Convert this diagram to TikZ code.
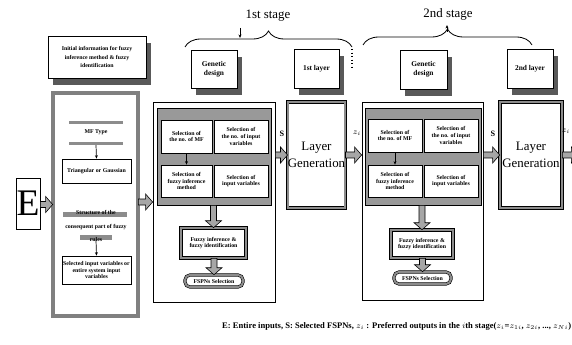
\documentclass[tikz,border=0pt]{standalone}
\usepackage{fontspec}
\setmainfont{Liberation Serif}
\usetikzlibrary{calc,arrows.meta,shadows,decorations.pathreplacing}
\def\blk[#1](#2)(#3,#4)(#5,#6)#7{\node[#1, minimum width={(#5-#3)*0.03cm}, minimum height={(#6-#4)*0.03cm}] (#2) at ({(#3+#5)/2},{(#4+#6)/2}) {#7};}
\def\fatr(#1)(#2){\draw[fatarr] ($(#1 |- #2)+(0,-3)$) -- ($(#2)+(-7,-3)$) -- ($(#2)+(-7,-8)$) -- (#2) -- ($(#2)+(-7,8)$) -- ($(#2)+(-7,3)$) -- ($(#1 |- #2)+(0,3)$) -- cycle;}
\def\fatd(#1)(#2){\draw[fatarr] ($(#2 |- #1)+(-3,0)$) -- ($(#2)+(-3,-7)$) -- ($(#2)+(-8,-7)$) -- (#2) -- ($(#2)+(8,-7)$) -- ($(#2)+(3,-7)$) -- ($(#2 |- #1)+(3,0)$) -- cycle;}
\tikzset{
  txt/.style={font=\bfseries\fontsize{5}{5.8}\selectfont, align=center, inner sep=0pt},
  plainbox/.style={txt, draw, fill=white, line width=0.6pt},
  shadowbox/.style={plainbox, font=\bfseries\fontsize{6.3}{8}\selectfont, drop shadow={shadow xshift=0.16cm, shadow yshift=-0.22cm, fill=black!65, opacity=1}},
  hatch/.style={fill=black!45, inner sep=0pt},
  colbox/.style={draw, line width=0.6pt, double=black!50, double distance=0.1cm, fill=white},
  stagebox/.style={draw, line width=0.7pt, fill=white},
  grpbox/.style={draw, line width=0.5pt, fill=black!40},
  fzbox/.style={txt, draw, line width=0.5pt, double=black!45, double distance=0.06cm, fill=white},
  fsbox/.style={fzbox, rounded corners=0.15cm},
  lgbox/.style={draw, line width=0.6pt, double=black!45, double distance=0.05cm, fill=white, align=center, inner sep=0pt, font=\fontsize{11}{15}\selectfont},
  ebox/.style={draw, line width=0.6pt, fill=white, inner sep=0pt, font=\fontsize{32}{32}\selectfont},
  fatarr/.style={draw, line width=0.5pt, fill=black!35},
  thinarr/.style={-{Stealth[length=3pt,width=2.5pt]}, line width=0.6pt},
  lbl/.style={font=\bfseries\fontsize{7}{8}\selectfont, inner sep=0pt},
  stagelbl/.style={font=\fontsize{11}{12}\selectfont, inner sep=0pt},
  bracedec/.style={decorate, decoration={brace, amplitude=0.48cm}, line width=0.7pt}
}
\begin{document}
\begin{tikzpicture}[x=0.03cm, y=-0.03cm]
%%%%% START %%%%%
\useasboundingbox (0,0) rectangle (572,345);

% inputs and initial information
\blk[ebox](e)(16,178)(40,229){E}
\blk[shadowbox, font=\bfseries\fontsize{5}{7.5}\selectfont](init)(48,36)(146,78){Initial information for fuzzy\\inference method \& fuzzy\\identification}
\blk[colbox](col)(53,93)(138,316){}
\blk[hatch](mftop)(69,121)(123,124){}
\node[txt] (mf) at (96,132) {MF Type};
\blk[hatch](mfbar)(69,142)(123,145){}
\blk[plainbox](tri)(62,159)(131,183){Triangular or Gaussian}
\blk[hatch](consa)(63,212)(127,217){}
\blk[hatch](consb)(80,235)(112,240){}
\node[txt, font=\bfseries\fontsize{5}{11.5}\selectfont] (cons) at (96,226) {Structure of the\\consequent part of fuzzy\\rules};
\blk[plainbox](sel)(62,256)(131,284){Selected input variables or\\entire system input\\variables}
\draw[thinarr] (mfbar.south) -- (tri.north);
\draw[thinarr] (consb.south) -- (sel.north);

% 1st stage
\draw[bracedec] (185,47) -- (352,47);
\node[stagelbl] (st1) at (268,16) {1st stage};
\coordinate (m1a) at (240,28);
\coordinate (m1b) at (240,38);
\draw[thinarr] (m1a) -- (m1b);
\coordinate (d1a) at (352,49);
\coordinate (d1b) at (352,68);
\draw[dotted, line width=1pt] (d1a) -- (d1b);
\blk[shadowbox](gd1)(191,50)(237,88){Genetic\\design}
\blk[shadowbox](ly1)(294,49)(339,88){1st layer}
\blk[stagebox](s1)(153,102)(275,302){}
\blk[grpbox](g1)(157,108)(271,205){}
\blk[plainbox](nmf1)(161,120)(212,153){Selection of\\the no. of MF}
\blk[plainbox](nin1)(214,120)(268,153){Selection of\\the no. of input\\variables}
\blk[plainbox](inf1)(161,165)(212,197){Selection of\\fuzzy inference\\method}
\blk[plainbox](inv1)(214,165)(268,197){Selection of\\input variables}
\draw[thinarr] (nmf1.south) -- (inf1.north);
\blk[fzbox](fz1)(181,228)(246,258){Fuzzy inference \&\\fuzzy identification}
\blk[fsbox](fs1)(185,275)(243,287){FSPNs Selection}
\fatd(g1.south)(fz1.north)
\fatd(fz1.south)(fs1.north)
\blk[lgbox](lg1)(288,102)(345,208){Layer\\Generation}

% 2nd stage
\draw[bracedec] (363,45) -- (532,45);
\node[stagelbl] (st2) at (448,14) {2nd stage};
\coordinate (m2a) at (447,32);
\coordinate (m2b) at (447,25);
\draw[thinarr] (m2a) -- (m2b);
\blk[shadowbox](gd2)(400,50)(447,89){Genetic\\design}
\blk[shadowbox](ly2)(507,49)(553,88){2nd layer}
\blk[stagebox](s2)(362,102)(483,300){}
\blk[grpbox](g2)(365,108)(481,205){}
\blk[plainbox](nmf2)(368,119)(422,152){Selection of\\the no. of MF}
\blk[plainbox](nin2)(424,119)(478,152){Selection of\\the no. of input\\variables}
\blk[plainbox](inf2)(368,165)(422,197){Selection of\\fuzzy inference\\method}
\blk[plainbox](inv2)(424,165)(478,197){Selection of\\input variables}
\draw[thinarr] (nmf2.south) -- (inf2.north);
\blk[fzbox](fz2)(391,230)(453,258){Fuzzy inference \&\\fuzzy identification}
\blk[fsbox](fs2)(394,272)(451,284){FSPNs Selection}
\fatd(g2.south)(fz2.north)
\fatd(fz2.south)(fs2.north)
\blk[lgbox](lg2)(500,102)(562,208){Layer\\Generation}

% block arrows between the parts
\fatr(e.east)(col.west)
\fatr(col.east)(s1.west)
\fatr(s1.east)(lg1.west)
\coordinate (in2) at (s2.west |- lg1.east);
\fatr(lg1.east)(in2)
\fatr(s2.east)(lg2.west)
\coordinate (out) at ($(lg2.east)+(16,0)$);
\fatr(lg2.east)(out)
\node[lbl] (sl1) at (282,134) {S};
\node[lbl] (zl1) at (357,133) {$z_i$};
\node[lbl] (sl2) at (493,134) {S};
\node[lbl] (zl2) at (566,131) {$z_i$};

% legend
\node[lbl, font=\bfseries\fontsize{7.3}{8}\selectfont, anchor=west] (leg) at (222,326) {E: Entire inputs, S: Selected FSPNs, $z_i$ : Preferred outputs in the $i$th stage($z_i$=$z_{1i}$, $z_{2i}$, ..., $z_{Ni}$)};
%%%%% END %%%%%
\end{tikzpicture}
\end{document}
